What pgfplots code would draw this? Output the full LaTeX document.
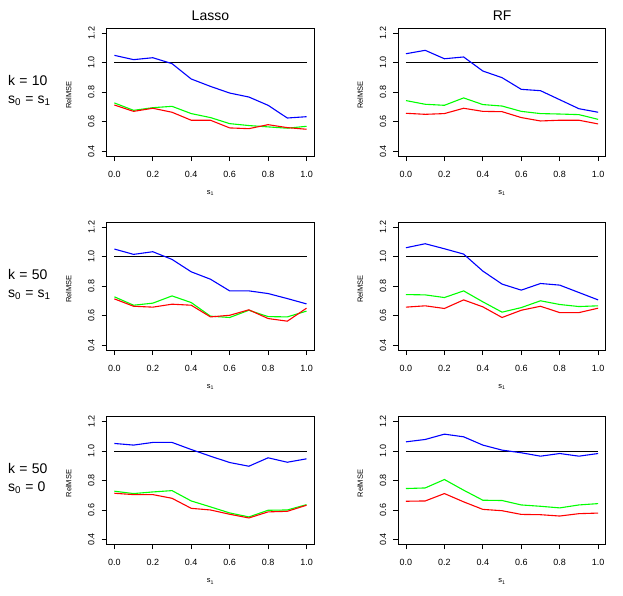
\documentclass[border=0pt]{standalone}
\usepackage{fontspec}
\setmainfont{Liberation Sans}
\usepackage{pgfplots}
\pgfplotsset{compat=1.18}
\definecolor{rblue}{RGB}{0,0,255}
\definecolor{rgreen}{RGB}{0,255,0}
\definecolor{rred}{RGB}{255,0,0}
\pgfplotsset{
  panel/.style={
    scale only axis, width=207.5pt, height=127.7pt, anchor=north west,
    xmin=-0.04, xmax=1.04, ymin=0.368, ymax=1.232,
    xtick={0,0.2,0.4,0.6,0.8,1}, ytick={0.4,0.6,0.8,1.0,1.2},
    tick align=outside, tick pos=left, major tick length=5pt,
    axis line style={line width=0.8pt},
    every tick/.style={black, line width=0.8pt},
    /pgf/number format/.cd, fixed, fixed zerofill, precision=1, assume math mode=true,
    /pgfplots/.cd,
    tick label style={font=\fontsize{9}{10}\selectfont, inner sep=0pt},
    xticklabel style={anchor=north},
    yticklabel style={rotate=90, anchor=south},
    xticklabel shift=10pt, yticklabel shift=7pt,
    xlabel={s\textsubscript{1}}, ylabel={RelMSE},
    xlabel style={at={([yshift=-37pt]axis description cs:0.5,0)}, anchor=center, font=\fontsize{7.5}{8}\selectfont},
    ylabel style={at={([xshift=-38pt,yshift=-3pt]axis description cs:0,0.5)}, anchor=center, font=\fontsize{7.5}{8}\selectfont},
    every axis plot/.append style={line width=1.1pt},
  }
}
\newcommand{\eq}{\hspace{0.3em}=\hspace{0.3em}}
\begin{document}
\begin{tikzpicture}
\useasboundingbox (0,0) rectangle (623pt,-595pt);

% column titles
\node[font=\fontsize{14}{16}\selectfont, anchor=base] at (210.4pt,-20pt) {Lasso};
\node[font=\fontsize{14}{16}\selectfont, anchor=base] at (502.2pt,-20pt) {RF};

% row labels
\tikzset{rowlab/.style={font=\fontsize{14}{16}\selectfont, anchor=base west, inner sep=0pt}}
\node[rowlab] at (8pt,-85pt) {k\eq 10};
\node[rowlab] at (8pt,-103pt) {s\textsubscript{0}\eq s\textsubscript{1}};
\node[rowlab] at (8pt,-279pt) {k\eq 50};
\node[rowlab] at (8pt,-297pt) {s\textsubscript{0}\eq s\textsubscript{1}};
\node[rowlab] at (8pt,-473.5pt) {k\eq 50};
\node[rowlab] at (8pt,-491.5pt) {s\textsubscript{0}\eq 0};

% Lasso, k = 10, s0 = s1
\begin{axis}[panel, at={(106.7pt,-28.3pt)}]
\addplot[black, line width=0.9pt] coordinates {(0,1) (1,1)};
\addplot[rblue] coordinates {(0,1.049) (0.1,1.020) (0.2,1.033) (0.3,0.993) (0.4,0.889) (0.5,0.839) (0.6,0.794) (0.7,0.767) (0.8,0.711) (0.9,0.625) (1,0.634)};
\addplot[rgreen] coordinates {(0,0.727) (0.1,0.677) (0.2,0.695) (0.3,0.704) (0.4,0.655) (0.5,0.628) (0.6,0.587) (0.7,0.574) (0.8,0.565) (0.9,0.556) (1,0.569)};
\addplot[rred] coordinates {(0,0.713) (0.1,0.670) (0.2,0.691) (0.3,0.664) (0.4,0.610) (0.5,0.610) (0.6,0.558) (0.7,0.553) (0.8,0.580) (0.9,0.560) (1,0.549)};
\end{axis}

% RF, k = 10, s0 = s1
\begin{axis}[panel, at={(398.3pt,-28.3pt)}]
\addplot[black, line width=0.9pt] coordinates {(0,1) (1,1)};
\addplot[rblue] coordinates {(0,1.060) (0.1,1.083) (0.2,1.026) (0.3,1.038) (0.4,0.943) (0.5,0.898) (0.6,0.819) (0.7,0.810) (0.8,0.749) (0.9,0.688) (1,0.664)};
\addplot[rgreen] coordinates {(0,0.743) (0.1,0.718) (0.2,0.711) (0.3,0.761) (0.4,0.716) (0.5,0.706) (0.6,0.670) (0.7,0.655) (0.8,0.652) (0.9,0.648) (1,0.616)};
\addplot[rred] coordinates {(0,0.657) (0.1,0.650) (0.2,0.655) (0.3,0.691) (0.4,0.670) (0.5,0.668) (0.6,0.628) (0.7,0.605) (0.8,0.610) (0.9,0.610) (1,0.585)};
\end{axis}

% Lasso, k = 50, s0 = s1
\begin{axis}[panel, at={(106.7pt,-222.3pt)}]
\addplot[black, line width=0.9pt] coordinates {(0,1) (1,1)};
\addplot[rblue] coordinates {(0,1.051) (0.1,1.015) (0.2,1.033) (0.3,0.981) (0.4,0.897) (0.5,0.847) (0.6,0.768) (0.7,0.768) (0.8,0.750) (0.9,0.716) (1,0.680)};
\addplot[rgreen] coordinates {(0,0.728) (0.1,0.671) (0.2,0.685) (0.3,0.734) (0.4,0.689) (0.5,0.597) (0.6,0.588) (0.7,0.637) (0.8,0.594) (0.9,0.592) (1,0.631)};
\addplot[rred] coordinates {(0,0.714) (0.1,0.664) (0.2,0.658) (0.3,0.678) (0.4,0.671) (0.5,0.592) (0.6,0.603) (0.7,0.640) (0.8,0.581) (0.9,0.563) (1,0.651)};
\end{axis}

% RF, k = 50, s0 = s1
\begin{axis}[panel, at={(398.3pt,-222.3pt)}]
\addplot[black, line width=0.9pt] coordinates {(0,1) (1,1)};
\addplot[rblue] coordinates {(0,1.060) (0.1,1.087) (0.2,1.053) (0.3,1.017) (0.4,0.902) (0.5,0.814) (0.6,0.773) (0.7,0.818) (0.8,0.807) (0.9,0.757) (1,0.707)};
\addplot[rgreen] coordinates {(0,0.743) (0.1,0.741) (0.2,0.723) (0.3,0.768) (0.4,0.694) (0.5,0.624) (0.6,0.655) (0.7,0.701) (0.8,0.676) (0.9,0.662) (1,0.667)};
\addplot[rred] coordinates {(0,0.658) (0.1,0.667) (0.2,0.649) (0.3,0.707) (0.4,0.660) (0.5,0.588) (0.6,0.637) (0.7,0.664) (0.8,0.621) (0.9,0.621) (1,0.651)};
\end{axis}

% Lasso, k = 50, s0 = 0
\begin{axis}[panel, at={(106.7pt,-416.7pt)}]
\addplot[black, line width=0.9pt] coordinates {(0,1) (1,1)};
\addplot[rblue] coordinates {(0,1.051) (0.1,1.040) (0.2,1.058) (0.3,1.058) (0.4,1.010) (0.5,0.965) (0.6,0.922) (0.7,0.897) (0.8,0.954) (0.9,0.924) (1,0.947)};
\addplot[rgreen] coordinates {(0,0.728) (0.1,0.712) (0.2,0.723) (0.3,0.732) (0.4,0.662) (0.5,0.622) (0.6,0.581) (0.7,0.554) (0.8,0.599) (0.9,0.601) (1,0.637)};
\addplot[rred] coordinates {(0,0.714) (0.1,0.705) (0.2,0.705) (0.3,0.680) (0.4,0.612) (0.5,0.601) (0.6,0.572) (0.7,0.547) (0.8,0.588) (0.9,0.592) (1,0.633)};
\end{axis}

% RF, k = 50, s0 = 0
\begin{axis}[panel, at={(398.3pt,-416.7pt)}]
\addplot[black, line width=0.9pt] coordinates {(0,1) (1,1)};
\addplot[rblue] coordinates {(0,1.062) (0.1,1.078) (0.2,1.114) (0.3,1.096) (0.4,1.040) (0.5,1.006) (0.6,0.988) (0.7,0.965) (0.8,0.983) (0.9,0.965) (1,0.983)};
\addplot[rgreen] coordinates {(0,0.746) (0.1,0.750) (0.2,0.807) (0.3,0.735) (0.4,0.667) (0.5,0.665) (0.6,0.635) (0.7,0.626) (0.8,0.615) (0.9,0.635) (1,0.644)};
\addplot[rred] coordinates {(0,0.660) (0.1,0.662) (0.2,0.712) (0.3,0.656) (0.4,0.605) (0.5,0.596) (0.6,0.571) (0.7,0.569) (0.8,0.560) (0.9,0.576) (1,0.580)};
\end{axis}
\end{tikzpicture}
\end{document}
